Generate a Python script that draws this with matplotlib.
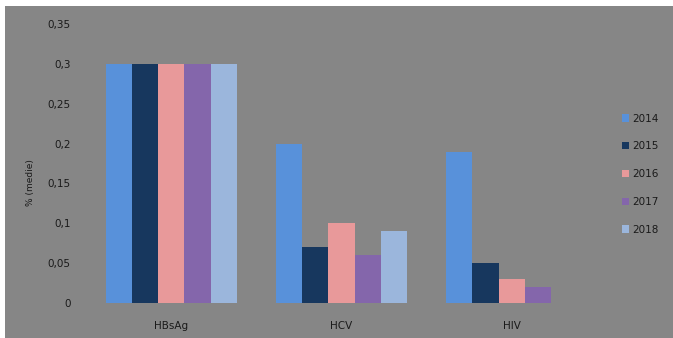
import numpy as np
import matplotlib.pyplot as plt
from matplotlib.patches import Rectangle

categories = ['HBsAg', 'HCV', 'HIV']
years = ['2014', '2015', '2016', '2017', '2018']
values = {
    '2014': [0.30, 0.20, 0.19],
    '2015': [0.30, 0.07, 0.05],
    '2016': [0.30, 0.10, 0.03],
    '2017': [0.30, 0.06, 0.02],
    '2018': [0.30, 0.09, 0.0],
}
colors = ['#5891da', '#17375e', '#e8999a', '#8466ab', '#9bb6dc']
yticks = [0, 0.05, 0.1, 0.15, 0.2, 0.25, 0.3, 0.35]
ylabels = ['0', '0,05', '0,1', '0,15', '0,2', '0,25', '0,3', '0,35']

bg = '#868686'
txt = '#1a1a1a'
W, H = 673, 338

fig = plt.figure(figsize=(W / 100, H / 100), dpi=100, facecolor='white')
# grey panel, leaving a thin white strip top and left
fig.patches.append(Rectangle((5 / W, 0), 1, 1 - 6 / H, transform=fig.transFigure,
                             facecolor=bg, edgecolor='none', zorder=-10))

ax = fig.add_axes([86 / W, 1 - 303 / H, (597 - 86) / W, (303 - 24) / H])
ax.set_facecolor('none')

x = np.arange(len(categories))
bw = 0.154
for i, yr in enumerate(years):
    off = (i - 2) * bw
    ax.bar(x + off, values[yr], width=bw, color=colors[i], label=yr, edgecolor='none')

ax.set_xlim(-0.5, 2.5)
ax.set_ylim(0, 0.35)
ax.set_yticks(yticks)
ax.set_yticklabels(ylabels, fontsize=7.5, color=txt)
ax.set_xticks(x)
ax.set_xticklabels(categories, fontsize=7.5, color=txt)
ax.tick_params(length=0)
ax.tick_params(axis='y', pad=11)
ax.tick_params(axis='x', pad=13)
for s in ax.spines.values():
    s.set_visible(False)

fig.text(30 / W, 1 - 183 / H, '% (medie)', rotation=90, fontsize=6.5,
         color=txt, ha='center', va='center')

leg = ax.legend(loc='center left', bbox_to_anchor=(1.03, 0.462), frameon=False,
                fontsize=7.5, handlelength=0.7, handleheight=0.7, handletextpad=0.3,
                labelspacing=1.7)
for t in leg.get_texts():
    t.set_color(txt)

fig.savefig('out.png', dpi=100, facecolor='white')
